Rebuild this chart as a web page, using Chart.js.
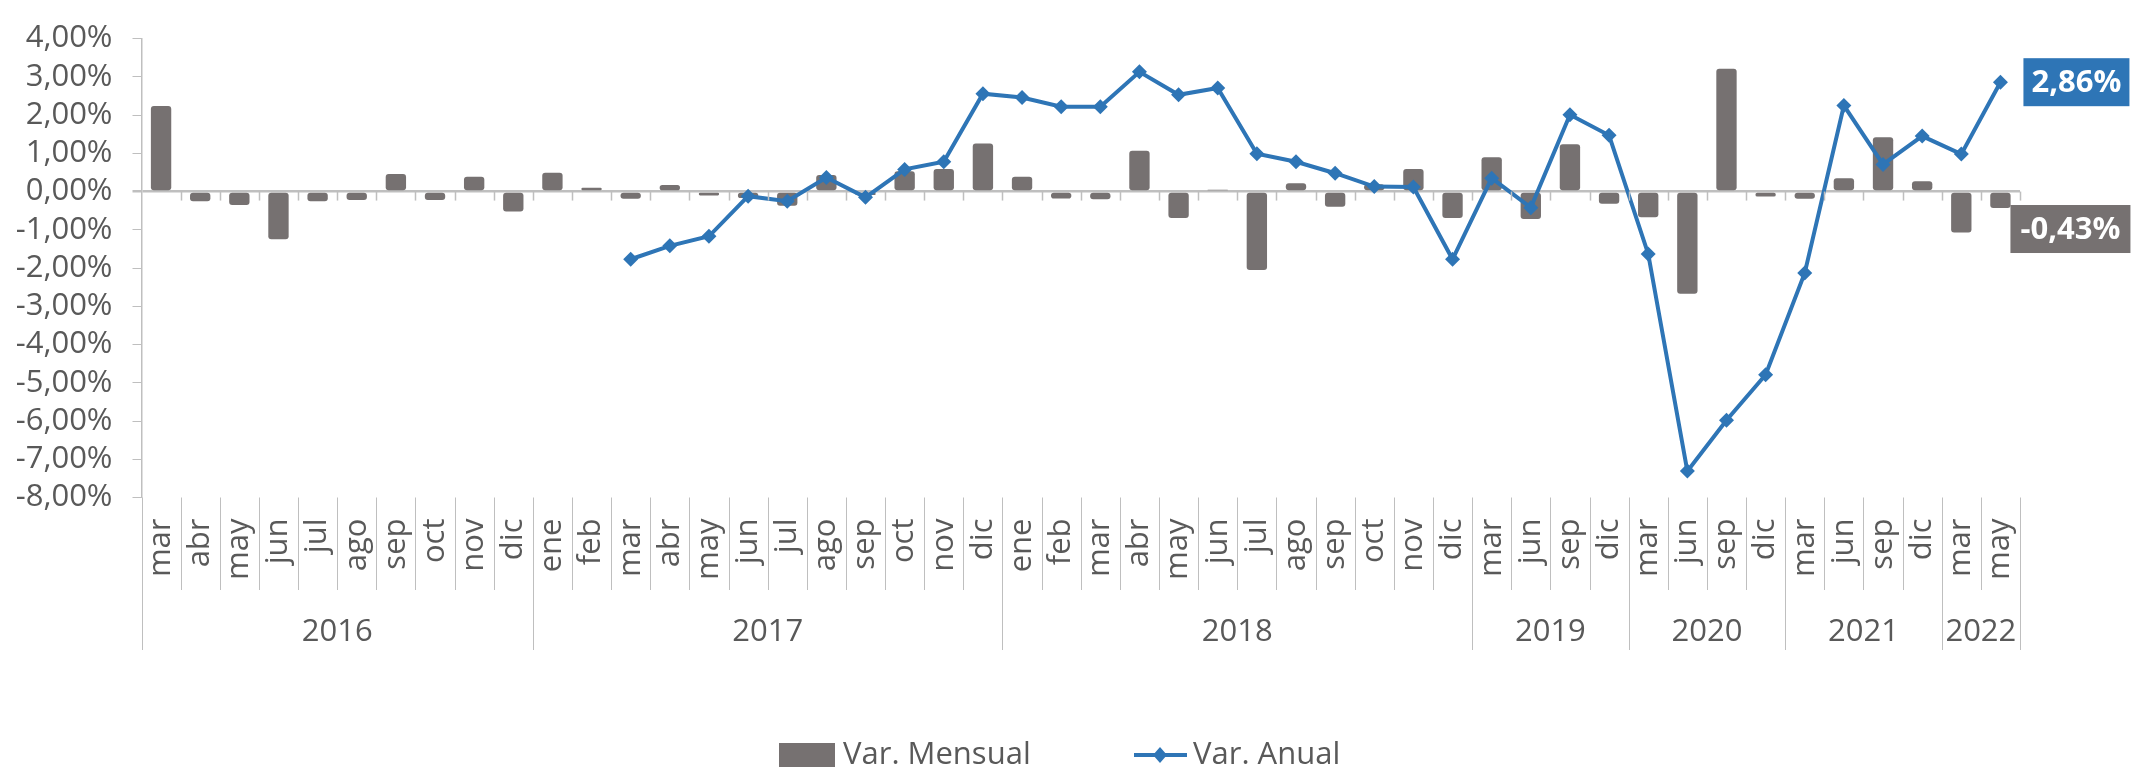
<!DOCTYPE html>
<html><head><meta charset="utf-8">
<script src="https://cdn.jsdelivr.net/npm/chart.js@4"></script>
<style>html,body{margin:0;padding:0;background:#fff}#wrap{width:2139px;height:769px}</style>
</head><body><div id="wrap"><canvas id="c" width="2139" height="769"></canvas></div>
<script>
const months = ['mar','abr','may','jun','jul','ago','sep','oct','nov','dic',
  'ene','feb','mar','abr','may','jun','jul','ago','sep','oct','nov','dic',
  'ene','feb','mar','abr','may','jun','jul','ago','sep','oct','nov','dic',
  'mar','jun','sep','dic',
  'mar','jun','sep','dic',
  'mar','jun','sep','dic',
  'mar','may'];
const years = ['2016','2017','2018','2019','2020','2021','2022'];
const yearSpans = [10,12,12,4,4,4,2];
const varMensual = [2.24,-0.25,-0.35,-1.25,-0.25,-0.22,0.46,-0.22,0.39,-0.52,
  0.49,0.10,-0.19,0.17,-0.10,-0.17,-0.37,0.43,-0.09,0.53,0.59,1.26,
  0.39,-0.18,-0.20,1.07,-0.69,0.05,-2.05,0.22,-0.40,0.19,0.59,-0.69,
  0.90,-0.72,1.24,-0.32,
  -0.67,-2.67,3.21,-0.13,
  -0.19,0.35,1.42,0.27,
  -1.07,-0.43];
const varAnual = [null,null,null,null,null,null,null,null,null,null,
  null,null,-1.77,-1.42,-1.17,-0.12,-0.25,0.37,-0.15,0.58,0.78,2.56,
  2.46,2.22,2.22,3.13,2.53,2.71,0.99,0.78,0.48,0.13,0.12,-1.77,
  0.35,-0.42,2.01,1.47,
  -1.63,-7.31,-5.98,-4.79,
  -2.13,2.25,0.71,1.45,
  0.98,2.86];
const seriesNames = ['Var. Mensual','Var. Anual'];

const FONT = "'Open Sans', sans-serif";
const TXT = '#595959';
const BAR = '#767171';
const LINE = '#2E75B6';
const AXIS = '#BFBFBF';
const fmt = v => v.toFixed(2).replace('.', ',') + '%';

const extras = {
  id: 'extras',
  afterDraw(chart) {
    const ctx = chart.ctx, ca = chart.chartArea;
    const xs = chart.scales.x, ys = chart.scales.y;
    const n = months.length;
    const catW = (ca.right - ca.left) / n;
    const y0 = ys.getPixelForValue(0);
    ctx.save();
    ctx.strokeStyle = AXIS; ctx.lineWidth = 1.5;
    for (let b = 1; b <= n; b++) {
      const x = Math.round(ca.left + b * catW) + 0.5;
      ctx.beginPath(); ctx.moveTo(x, y0); ctx.lineTo(x, y0 + 9); ctx.stroke();
    }
    const yearBounds = new Set([0]);
    let acc = 0; yearSpans.forEach(s => { acc += s; yearBounds.add(acc); });
    ctx.lineWidth = 1;
    for (let b = 0; b <= n; b++) {
      const x = Math.round(ca.left + b * catW) + 0.5;
      const yEnd = yearBounds.has(b) ? 650 : 590;
      ctx.beginPath(); ctx.moveTo(x, ca.bottom); ctx.lineTo(x, yEnd); ctx.stroke();
    }
    ctx.fillStyle = TXT; ctx.font = `31px ${FONT}`;
    ctx.textAlign = 'center'; ctx.textBaseline = 'middle';
    let start = 0;
    years.forEach((y, i) => {
      const xc = ca.left + (start + yearSpans[i] / 2) * catW;
      ctx.fillText(y, xc, 632);
      start += yearSpans[i];
    });
    const last = n - 1;
    const lx = xs.getPixelForValue(last);
    const ly = ys.getPixelForValue(varAnual[last]);
    ctx.font = `bold 31px ${FONT}`;
    ctx.fillStyle = LINE;
    ctx.fillRect(lx + 23, ly - 24, 106, 48);
    ctx.fillStyle = '#fff'; ctx.textAlign = 'center';
    ctx.fillText(fmt(varAnual[last]), lx + 23 + 53, ly + 1);
    const by = ys.getPixelForValue(varMensual[last]);
    ctx.fillStyle = BAR;
    ctx.fillRect(lx + 10, by - 3, 120, 48);
    ctx.fillStyle = '#fff';
    ctx.fillText(fmt(varMensual[last]), lx + 10 + 60, by + 22);
    ctx.font = `31px ${FONT}`; ctx.textAlign = 'left';
    const ly2 = 755;
    ctx.fillStyle = BAR; ctx.fillRect(779, 743, 56, 24);
    ctx.fillStyle = TXT; ctx.fillText(seriesNames[0], 843, ly2);
    ctx.strokeStyle = LINE; ctx.lineWidth = 4;
    ctx.beginPath(); ctx.moveTo(1134, ly2); ctx.lineTo(1187, ly2); ctx.stroke();
    ctx.fillStyle = LINE; ctx.beginPath();
    ctx.moveTo(1160, ly2 - 8); ctx.lineTo(1167, ly2); ctx.lineTo(1160, ly2 + 8); ctx.lineTo(1153, ly2); ctx.closePath(); ctx.fill();
    ctx.fillStyle = TXT; ctx.fillText(seriesNames[1], 1193, ly2);
    ctx.restore();
  }
};

new Chart(document.getElementById('c'), {
  type: 'bar',
  data: {
    labels: months,
    datasets: [
      { type: 'line', label: seriesNames[1], data: varAnual, borderColor: LINE, backgroundColor: LINE,
        borderWidth: 4, pointStyle: 'rectRot', pointRadius: 7.5, pointBorderWidth: 0,
        pointBackgroundColor: LINE, tension: 0, order: 0 },
      { type: 'bar', label: seriesNames[0], data: varMensual, backgroundColor: BAR,
        borderRadius: 3, borderSkipped: false, categoryPercentage: 0.52, barPercentage: 1, order: 1 }
    ]
  },
  options: {
    responsive: false, animation: false,
    layout: { padding: { left: 0, right: 119, top: 22, bottom: 0 } },
    plugins: { legend: { display: false }, tooltip: { enabled: false } },
    scales: {
      x: {
        grid: { display: false, drawTicks: false }, border: { display: false },
        ticks: { autoSkip: false, maxRotation: 90, minRotation: 90, padding: 21, color: TXT,
          font: { family: FONT, size: 31 } },
        afterFit: s => { s.height = 769 - 497.5; }
      },
      y: {
        min: -8, max: 4,
        afterBuildTicks: s => { const t = []; for (let v = -8; v <= 4; v++) t.push({ value: v }); s.ticks = t; },
        ticks: { autoSkip: false, stepSize: 1, color: TXT, font: { family: FONT, size: 31 }, padding: 20, callback: v => fmt(v) },
        grid: { color: c => (c.tick && c.tick.value === 0) ? AXIS : 'rgba(0,0,0,0)',
          lineWidth: c => (c.tick && c.tick.value === 0) ? 2.5 : 1,
          tickColor: AXIS, tickLength: 9, drawTicks: true },
        border: { display: true, color: AXIS, width: 1.5 },
        afterFit: s => { s.width = 141.5; }
      }
    }
  },
  plugins: [extras]
});
</script></body></html>
